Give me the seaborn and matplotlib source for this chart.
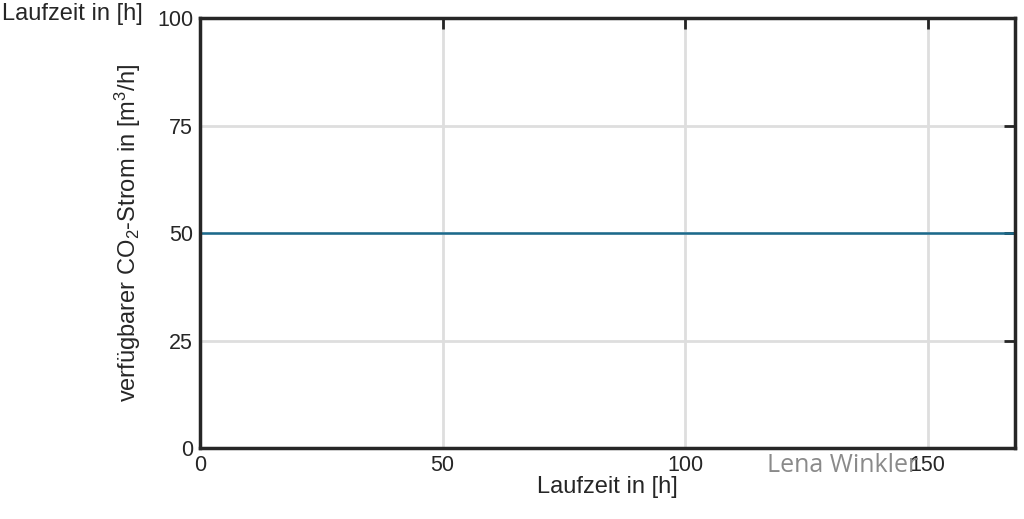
# verfügbarer CO2-Strom über die Laufzeit

import matplotlib
matplotlib.use("Agg")
import matplotlib.pyplot as plt
import seaborn as sns

# Daten
laufzeit = [0, 168]
co2_strom = [50, 50]
x_ticks = [0, 50, 100, 150]
y_ticks = [0, 25, 50, 75, 100]

sns.set_style("white")
plt.rcParams['font.family'] = ['Liberation Sans', 'DejaVu Sans']
plt.rcParams['mathtext.fontset'] = 'custom'
plt.rcParams['mathtext.rm'] = 'Liberation Sans'
plt.rcParams['mathtext.it'] = 'Liberation Sans'

fig = plt.figure(figsize=(10.24, 5.19), dpi=100)
ax = fig.add_axes([0.1953, 0.1368, 0.7959, 0.8285])

sns.lineplot(x=laufzeit, y=co2_strom, ax=ax, color="#1b6a8c", linewidth=1.8)

ax.set_xlim(0, 168)
ax.set_ylim(0, 100)
ax.set_xticks(x_ticks)
ax.set_yticks(y_ticks)

# Gitter und Achsen im MATLAB-Stil
ax.grid(True, color="#dedede", linewidth=2)
ax.set_axisbelow(True)
for s in ax.spines.values():
    s.set_color("#262626")
    s.set_linewidth(2.5)
ax.tick_params(direction="in", length=8, width=2, colors="#262626",
               top=True, right=True, labelsize=15.5, pad=5)

# Rótulos
ax.set_xlabel("Laufzeit in [h]", fontsize=17, color="#262626", labelpad=0)
ax.set_ylabel("verfügbarer CO$_2$-Strom in [m$^3$/h]", fontsize=17,
              color="#262626", labelpad=10)

fig.text(0.002, 0.995, "Laufzeit in [h]", fontsize=17, color="#262626",
         ha="left", va="top")
fig.text(0.823, 0.104, "Lena Winkler", fontsize=18, color="#8a8a8a",
         ha="center", va="center", family=["Open Sans", "DejaVu Sans"])

fig.savefig("out.png", dpi=100)
